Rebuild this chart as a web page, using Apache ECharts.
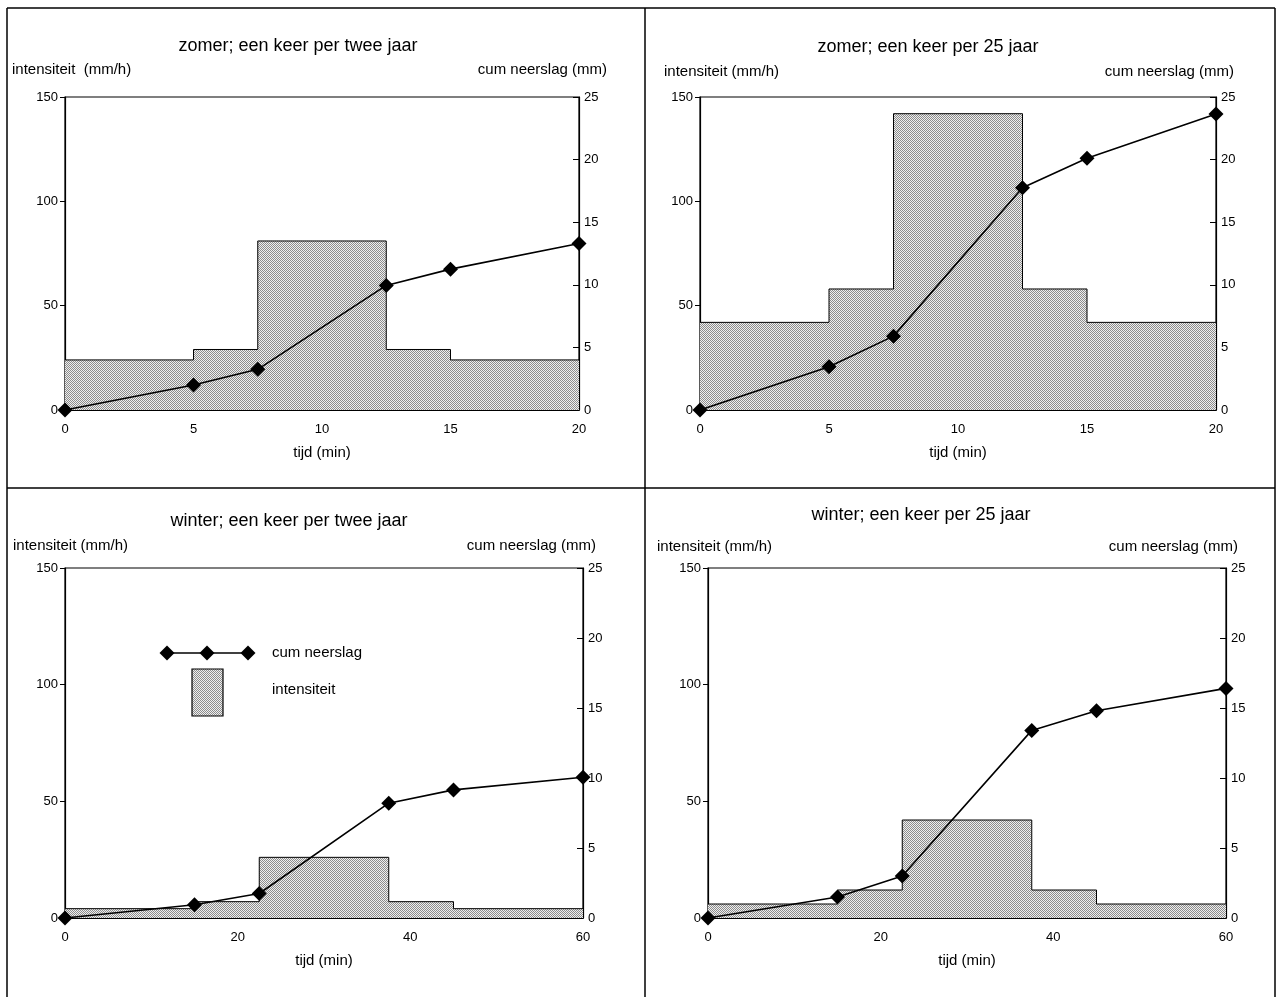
<!DOCTYPE html>
<html>
<head>
<meta charset="utf-8">
<script src="https://cdn.jsdelivr.net/npm/echarts@6/dist/echarts.min.js"></script>
<style>
  html, body { margin: 0; padding: 0; background: #fff; }
  #chart { width: 1280px; height: 997px; }
</style>
</head>
<body>
<div id="chart"></div>
<script>
// bloktijden (min) en intensiteit (mm/h) per blok, cum neerslag (mm) op de bloktijden
let titles = [
	'zomer; een keer per twee jaar',
	'zomer; een keer per 25 jaar',
	'winter; een keer per twee jaar',
	'winter; een keer per 25 jaar'
];
let zomerEdges = [0, 5, 7.5, 12.5, 15, 20];
let winterEdges = [0, 15, 22.5, 37.5, 45, 60];

let zomer2Int = [24, 29, 81, 29, 24];
let zomer2Cum = [0, 2.0, 3.25, 9.95, 11.25, 13.3];

let zomer25Int = [42, 58, 142, 58, 42];
let zomer25Cum = [0, 3.45, 5.9, 17.75, 20.1, 23.65];

let winter2Int = [4, 7, 26, 7, 4];
let winter2Cum = [0, 0.95, 1.75, 8.2, 9.15, 10.05];

let winter25Int = [6, 12, 42, 12, 6];
let winter25Cum = [0, 1.5, 3.0, 13.4, 14.8, 16.4];

let xMax = [20, 20, 60, 60];
let xStep = [5, 5, 20, 20];

let font = 'Liberation Sans';

// stippelpatroon voor de intensiteit
function makePattern() {
	let c = document.createElement('canvas');
	c.width = 4; c.height = 4;
	let ctx = c.getContext('2d');
	for (let i = 0; i < 4; i++) {
		for (let j = 0; j < 4; j++) {
			ctx.fillStyle = ((i + j) % 2 === 0) ? '#8c8c8c' : '#efefef';
			ctx.fillRect(i, j, 1, 1);
		}
	}
	return c;
}
let pattern = { image: makePattern(), repeat: 'repeat' };

let panels = [
	{ edges: zomerEdges, int: zomer2Int, cum: zomer2Cum },
	{ edges: zomerEdges, int: zomer25Int, cum: zomer25Cum },
	{ edges: winterEdges, int: winter2Int, cum: winter2Cum },
	{ edges: winterEdges, int: winter25Int, cum: winter25Cum }
];

let grids = [
	{ left: 65, right: 701, top: 97, bottom: 587 },
	{ left: 700, right: 64, top: 97, bottom: 587 },
	{ left: 65, right: 697, top: 568, bottom: 79 },
	{ left: 708, right: 54, top: 568, bottom: 79 }
];

// positie van titel en asnamen per paneel
let labelPos = [
	{ tx: 298, ty: 46, lx: 12, rx: 607, ny: 70, lname: 'intensiteit  (mm/h)' },
	{ tx: 928, ty: 47, lx: 664, rx: 1234, ny: 72, lname: 'intensiteit (mm/h)' },
	{ tx: 289, ty: 521, lx: 13, rx: 596, ny: 546, lname: 'intensiteit (mm/h)' },
	{ tx: 921, ty: 515, lx: 657, rx: 1238, ny: 547, lname: 'intensiteit (mm/h)' }
];

let option = {
	animation: false,
	backgroundColor: '#fff',
	textStyle: { fontFamily: font, color: '#000' },
	grid: [],
	xAxis: [],
	yAxis: [],
	series: [],
	graphic: []
};

panels.forEach(function (p, i) {
	option.grid.push(Object.assign({
		show: true, borderColor: '#000', borderWidth: 1.2, backgroundColor: 'transparent'
	}, grids[i]));

	option.xAxis.push({
		type: 'value', gridIndex: i, min: 0, max: xMax[i], interval: xStep[i],
		name: 'tijd (min)', nameLocation: 'middle', nameGap: 35,
		nameTextStyle: { fontFamily: font, fontSize: 15, color: '#000' },
		axisLine: { lineStyle: { color: '#000', width: 1.2 } },
		axisTick: { show: false },
		axisLabel: { fontFamily: font, fontSize: 13, color: '#000', margin: 13 },
		splitLine: { show: false }
	});

	option.yAxis.push({
		type: 'value', gridIndex: i, position: 'left', min: 0, max: 150, interval: 50,
		axisLine: { show: true, lineStyle: { color: '#000', width: 1.2 } },
		axisTick: { show: true, inside: false, length: 5, lineStyle: { color: '#000' } },
		axisLabel: { fontFamily: font, fontSize: 13, color: '#000', margin: 7 },
		splitLine: { show: false }
	});
	option.yAxis.push({
		type: 'value', gridIndex: i, position: 'right', min: 0, max: 25, interval: 5,
		axisLine: { show: true, lineStyle: { color: '#000', width: 1.2 } },
		axisTick: { show: true, inside: true, length: 6, lineStyle: { color: '#000' } },
		axisLabel: { fontFamily: font, fontSize: 13, color: '#000', margin: 5 },
		splitLine: { show: false }
	});

	// trapvormige intensiteit
	let stepData = p.int.map(function (v, k) { return [p.edges[k], v]; });
	stepData.push([p.edges[p.edges.length - 1], p.int[p.int.length - 1]]);
	option.series.push({
		type: 'line', name: 'intensiteit', xAxisIndex: i, yAxisIndex: 2 * i,
		step: 'end', data: stepData, symbol: 'none', z: 1,
		lineStyle: { color: '#000', width: 1 },
		areaStyle: { color: pattern, opacity: 1 }
	});

	// cumulatieve neerslag
	option.series.push({
		type: 'line', name: 'cum neerslag', xAxisIndex: i, yAxisIndex: 2 * i + 1,
		data: p.cum.map(function (v, k) { return [p.edges[k], v]; }),
		symbol: 'diamond', symbolSize: 15, z: 3,
		itemStyle: { color: '#000' },
		lineStyle: { color: '#000', width: 1.6 }
	});

	let lp = labelPos[i];
	option.graphic.push(
		{ type: 'text', x: lp.tx, y: lp.ty, style: { text: titles[i], font: '18px "' + font + '"', fill: '#000', align: 'center', verticalAlign: 'middle', textAlign: 'center', textVerticalAlign: 'middle' } },
		{ type: 'text', x: lp.lx, y: lp.ny, style: { text: lp.lname, font: '15px "' + font + '"', fill: '#000', align: 'left', verticalAlign: 'middle', textAlign: 'left', textVerticalAlign: 'middle' } },
		{ type: 'text', x: lp.rx, y: lp.ny, style: { text: 'cum neerslag (mm)', font: '15px "' + font + '"', fill: '#000', align: 'right', verticalAlign: 'middle', textAlign: 'right', textVerticalAlign: 'middle' } }
	);
});

// kaderlijnen
let frame = [
	[7, 8, 1275, 8], [7, 8, 7, 997], [1275, 8, 1275, 997],
	[645, 8, 645, 997], [7, 488, 1275, 488]
];
frame.forEach(function (f) {
	option.graphic.push({ type: 'line', shape: { x1: f[0], y1: f[1], x2: f[2], y2: f[3] }, style: { stroke: '#000', lineWidth: 1.5 } });
});

// legenda in paneel 3
function diamond(cx, cy) {
	return { type: 'polygon', shape: { points: [[cx, cy - 7.5], [cx + 7.5, cy], [cx, cy + 7.5], [cx - 7.5, cy]] }, style: { fill: '#000' }, z: 10 };
}
option.graphic.push(
	{ type: 'line', shape: { x1: 167, y1: 653, x2: 248, y2: 653 }, style: { stroke: '#000', lineWidth: 1.4 }, z: 9 },
	diamond(167, 653), diamond(207, 653), diamond(248, 653),
	{ type: 'text', x: 272, y: 653, style: { text: 'cum neerslag', font: '15px "' + font + '"', fill: '#000', align: 'left', verticalAlign: 'middle', textAlign: 'left', textVerticalAlign: 'middle' } },
	{ type: 'rect', shape: { x: 192, y: 669, width: 31, height: 47 }, style: { fill: pattern, stroke: '#000', lineWidth: 1.2 } },
	{ type: 'text', x: 272, y: 690, style: { text: 'intensiteit', font: '15px "' + font + '"', fill: '#000', align: 'left', verticalAlign: 'middle', textAlign: 'left', textVerticalAlign: 'middle' } }
);

let chart = echarts.init(document.getElementById('chart'));
chart.setOption(option);
</script>
</body>
</html>
